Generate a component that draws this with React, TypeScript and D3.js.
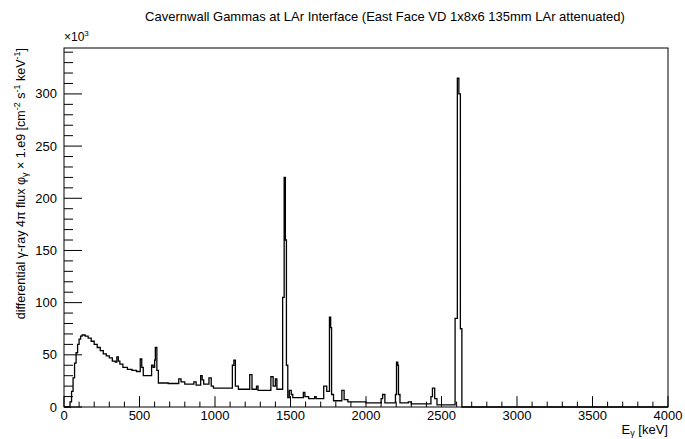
import React from "react";
import * as d3 from "d3";

// Histogram bin edges (keV) and bin contents (flux x 1e-3)
const binEdges = [
  0, 40, 50, 60, 70, 80, 90, 100, 110, 120, 140, 160, 180, 200, 220, 240, 260, 280, 300, 320, 340, 350, 360, 370, 390, 420, 450, 480, 505, 515, 525,
  580, 590, 600, 605, 615, 625, 690, 760, 775, 800, 860, 875, 905, 915, 925, 960, 975, 990, 1115, 1125, 1135, 1155, 1230, 1245, 1275, 1285,
  1370, 1385, 1400, 1410, 1448, 1458, 1466, 1473, 1482, 1492, 1505, 1515, 1585, 1595, 1620, 1660, 1670, 1720, 1740, 1758, 1766, 1772, 1785,
  1840, 1855, 1880, 2000, 2100, 2110, 2125, 2195, 2202, 2210, 2215, 2225, 2280, 2300, 2430, 2440, 2455, 2470, 2590, 2605, 2615, 2625, 2635, 4000,
];
const binValues = [
  0, 5, 15, 28, 42, 52, 60, 65, 68, 69, 68, 66, 63, 60, 57, 54, 51, 49, 47, 44, 43, 48, 44, 41, 38, 36, 35, 34, 46, 38,
  30, 40, 38, 45, 57, 35, 23, 22.5, 27, 24, 22, 24, 21, 30, 26, 22, 28, 20, 18, 40, 45, 20, 17, 31, 17, 20,
  16, 29, 20, 27, 17, 105, 220, 160, 40, 9, 16, 12, 9, 14, 10, 8, 10, 8, 20, 15, 86, 76, 12,
  6, 16, 7, 5, 4, 8, 12, 4, 12, 43, 40, 12, 4, 5, 3, 10, 18, 8, 2, 85, 315, 300, 75, 0,
];

const xMajorTicks = [0, 500, 1000, 1500, 2000, 2500, 3000, 3500, 4000];
const yMajorTicks = [0, 50, 100, 150, 200, 250, 300];

const W = 685;
const H = 439;
const L = 64, R = 668, T = 48, B = 407;

export default function App() {
  const x = d3.scaleLinear().domain([0, 4000]).range([L, R]);
  const y = d3.scaleLinear().domain([0, 344]).range([B, T]);

  const pts: [number, number][] = binValues.map((v, i) => [binEdges[i], v]);
  pts.push([binEdges[binEdges.length - 1], binValues[binValues.length - 1]]);
  const line = d3
    .line<[number, number]>()
    .x((d) => x(d[0]))
    .y((d) => y(d[1]))
    .curve(d3.curveStepAfter);

  const xMinor = d3.range(0, 4001, 100).filter((v) => v % 500 !== 0);
  const yMinor = d3.range(0, 341, 10).filter((v) => v % 50 !== 0);
  const xMajLen = 10.8, xMinLen = 5.4, yMajLen = 18, yMinLen = 9;
  const font = "'Liberation Sans', Arial, Helvetica, sans-serif";

  return (
    <svg width={W} height={H} style={{ position: "absolute", left: 0, top: 0, background: "#fff" }} fontFamily={font}>
      <rect x={0} y={0} width={W} height={H} fill="#fff" />
      <text x={385} y={21} fontSize={13} textAnchor="middle" fill="#000">
        Cavernwall Gammas at LAr Interface (East Face VD 1x8x6 135mm LAr attenuated)
      </text>
      {/* ticks */}
      {xMajorTicks.map((t) => (
        <line key={"xM" + t} x1={x(t)} x2={x(t)} y1={B} y2={B - xMajLen} stroke="#000" />
      ))}
      {xMinor.map((t) => (
        <line key={"xm" + t} x1={x(t)} x2={x(t)} y1={B} y2={B - xMinLen} stroke="#000" />
      ))}
      {yMajorTicks.map((t) => (
        <line key={"yM" + t} x1={L} x2={L + yMajLen} y1={y(t)} y2={y(t)} stroke="#000" />
      ))}
      {yMinor.map((t) => (
        <line key={"ym" + t} x1={L} x2={L + yMinLen} y1={y(t)} y2={y(t)} stroke="#000" />
      ))}
      <path d={line(pts) || ""} fill="none" stroke="#000" strokeWidth={1.3} />
      <rect x={L} y={T} width={R - L} height={B - T} fill="none" stroke="#000" strokeWidth={1} />
      {xMajorTicks.map((t) => (
        <text key={"xl" + t} x={x(t)} y={420} fontSize={13} textAnchor="middle" fill="#000">
          {t}
        </text>
      ))}
      {yMajorTicks.map((t) => (
        <text key={"yl" + t} x={57} y={y(t) + 4.5} fontSize={13} textAnchor="end" fill="#000">
          {t}
        </text>
      ))}
      <text x={64} y={41} fontSize={12} fill="#000">
        ×10<tspan dy={-5} fontSize={8}>3</tspan>
      </text>
      <text x={R} y={434} fontSize={13} textAnchor="end" fill="#000">
        E<tspan dy={2} fontSize={9}>γ</tspan>
        <tspan dy={-2}> [keV]</tspan>
      </text>
      <text transform={`translate(25,${T}) rotate(-90)`} fontSize={12.5} textAnchor="end" fill="#000">
        differential γ-ray 4π flux φ<tspan dy={3} fontSize={9}>γ</tspan>
        <tspan dy={-3}> × 1.e9  [cm</tspan>
        <tspan dy={-5} fontSize={9}>-2</tspan>
        <tspan dy={5}> s</tspan>
        <tspan dy={-5} fontSize={9}>-1</tspan>
        <tspan dy={5}> keV</tspan>
        <tspan dy={-5} fontSize={9}>-1</tspan>
        <tspan dy={5}>]</tspan>
      </text>
    </svg>
  );
}
